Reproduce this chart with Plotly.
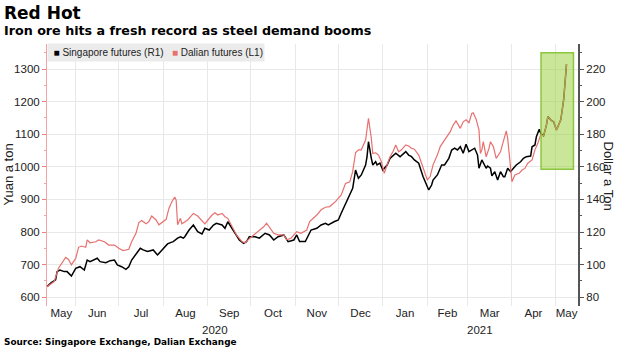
import plotly.graph_objects as go
import pandas as pd

title = "Red Hot"
subtitle = "Iron ore hits a fresh record as steel demand booms"
source = "Source: Singapore Exchange, Dalian Exchange"
left_title = "Yuan a ton"
right_title = "Dollar a Ton"
sgx_name = "Singapore futures (R1)"
dalian_name = "Dalian futures (L1)"

dalian_dates = [
    "2020-05-12", "2020-05-17", "2020-05-20", "2020-05-22", "2020-05-25", "2020-05-27", "2020-05-29",
    "2020-06-01", "2020-06-03", "2020-06-05", "2020-06-08", "2020-06-09", "2020-06-11", "2020-06-15",
    "2020-06-17", "2020-06-21", "2020-06-24", "2020-06-28", "2020-07-01", "2020-07-04", "2020-07-08",
    "2020-07-10", "2020-07-13", "2020-07-15", "2020-07-17", "2020-07-20", "2020-07-22", "2020-07-24",
    "2020-07-27", "2020-07-29", "2020-07-31", "2020-08-03", "2020-08-05", "2020-08-07", "2020-08-09",
    "2020-08-10", "2020-08-11", "2020-08-13", "2020-08-14", "2020-08-18", "2020-08-22", "2020-08-25",
    "2020-08-30", "2020-09-01", "2020-09-04", "2020-09-06", "2020-09-08", "2020-09-11", "2020-09-13",
    "2020-09-15", "2020-09-18", "2020-09-21", "2020-09-25", "2020-09-27", "2020-09-29", "2020-10-03",
    "2020-10-06", "2020-10-10", "2020-10-12", "2020-10-14", "2020-10-17", "2020-10-20", "2020-10-24",
    "2020-10-26", "2020-10-29", "2020-11-02", "2020-11-05", "2020-11-09", "2020-11-11", "2020-11-16",
    "2020-11-19", "2020-11-22", "2020-11-25", "2020-11-29", "2020-12-01", "2020-12-03", "2020-12-06",
    "2020-12-09", "2020-12-11", "2020-12-13", "2020-12-15", "2020-12-17", "2020-12-20", "2020-12-21",
    "2020-12-22", "2020-12-24", "2020-12-25", "2020-12-27", "2020-12-29", "2020-12-31", "2021-01-02",
    "2021-01-04", "2021-01-06", "2021-01-08", "2021-01-10", "2021-01-12", "2021-01-14", "2021-01-17",
    "2021-01-19", "2021-01-21", "2021-01-23", "2021-01-26", "2021-01-28", "2021-01-30", "2021-02-01",
    "2021-02-03", "2021-02-05", "2021-02-08", "2021-02-10", "2021-02-13", "2021-02-17", "2021-02-19",
    "2021-02-21", "2021-02-24", "2021-02-26", "2021-02-28", "2021-03-02", "2021-03-04", "2021-03-05",
    "2021-03-07", "2021-03-09", "2021-03-10", "2021-03-11", "2021-03-12", "2021-03-14", "2021-03-16",
    "2021-03-17", "2021-03-19", "2021-03-21", "2021-03-24", "2021-03-26", "2021-03-28", "2021-03-29",
    "2021-03-31", "2021-04-01", "2021-04-03", "2021-04-06", "2021-04-08", "2021-04-10", "2021-04-12",
    "2021-04-15", "2021-04-17", "2021-04-19", "2021-04-21", "2021-04-23", "2021-04-25", "2021-04-26",
    "2021-04-28", "2021-04-30", "2021-05-02", "2021-05-03", "2021-05-05", "2021-05-07", "2021-05-08",
    "2021-05-09",
]
dalian_yuan = [
    632, 648, 689, 704, 722, 716, 699,
    719, 753, 757, 753, 776, 767, 770,
    776, 770, 760, 760, 750, 743, 747,
    770, 796, 829, 835, 825, 832, 849,
    837, 822, 829, 839, 873, 893, 907,
    898, 822, 842, 825, 837, 857, 849,
    825, 837, 852, 859, 852, 857, 847,
    842, 816, 791, 770, 767, 776, 791,
    801, 816, 827, 814, 796, 791, 791,
    776, 781, 801, 796, 806, 832, 852,
    868, 876, 878, 893, 903, 914, 949,
    954, 985, 1043, 1052, 1052, 1082, 1113,
    1149, 1087, 1041, 1043, 1036, 1016, 980,
    1006, 1031, 1046, 1067, 1046, 1052, 1067,
    1064, 1057, 1054, 1036, 1011, 985, 960,
    970, 1006, 1036, 1062, 1082, 1108, 1128,
    1141, 1118, 1138, 1144, 1135, 1164, 1166,
    1146, 1113, 1041, 1052, 1077, 1031, 1057,
    1077, 1062, 1026, 1046, 1082, 1110, 1087,
    990, 954, 975, 980, 990, 995, 1011,
    1021, 1052, 1072, 1098, 1095, 1128, 1154,
    1144, 1138, 1113, 1123, 1144, 1205, 1266,
    1315,
]

sgx_dates = [
    "2020-05-12", "2020-05-15", "2020-05-18", "2020-05-19", "2020-05-21", "2020-05-24", "2020-05-26",
    "2020-05-29", "2020-06-01", "2020-06-04", "2020-06-07", "2020-06-09", "2020-06-11", "2020-06-14",
    "2020-06-16", "2020-06-18", "2020-06-22", "2020-06-25", "2020-06-28", "2020-06-30", "2020-07-03",
    "2020-07-06", "2020-07-08", "2020-07-10", "2020-07-14", "2020-07-16", "2020-07-18", "2020-07-21",
    "2020-07-23", "2020-07-25", "2020-07-28", "2020-07-30", "2020-08-01", "2020-08-04", "2020-08-06",
    "2020-08-08", "2020-08-11", "2020-08-13", "2020-08-15", "2020-08-16", "2020-08-19", "2020-08-22",
    "2020-08-25", "2020-08-28", "2020-08-30", "2020-09-02", "2020-09-05", "2020-09-07", "2020-09-11",
    "2020-09-13", "2020-09-15", "2020-09-18", "2020-09-20", "2020-09-23", "2020-09-26", "2020-09-28",
    "2020-09-30", "2020-10-04", "2020-10-07", "2020-10-11", "2020-10-14", "2020-10-17", "2020-10-20",
    "2020-10-24", "2020-10-27", "2020-10-31", "2020-11-02", "2020-11-04", "2020-11-08", "2020-11-10",
    "2020-11-12", "2020-11-16", "2020-11-19", "2020-11-22", "2020-11-24", "2020-11-28", "2020-12-01",
    "2020-12-03", "2020-12-06", "2020-12-09", "2020-12-11", "2020-12-13", "2020-12-15", "2020-12-17",
    "2020-12-20", "2020-12-21", "2020-12-22", "2020-12-24", "2020-12-25", "2020-12-27", "2020-12-28",
    "2020-12-30", "2021-01-01", "2021-01-04", "2021-01-06", "2021-01-10", "2021-01-13", "2021-01-17",
    "2021-01-19", "2021-01-21", "2021-01-23", "2021-01-26", "2021-01-28", "2021-01-29", "2021-01-31",
    "2021-02-02", "2021-02-04", "2021-02-05", "2021-02-08", "2021-02-11", "2021-02-13", "2021-02-16",
    "2021-02-18", "2021-02-20", "2021-02-22", "2021-02-24", "2021-02-26", "2021-02-28", "2021-03-02",
    "2021-03-04", "2021-03-06", "2021-03-08", "2021-03-09", "2021-03-11", "2021-03-12", "2021-03-14",
    "2021-03-15", "2021-03-17", "2021-03-18", "2021-03-20", "2021-03-22", "2021-03-24", "2021-03-26",
    "2021-03-27", "2021-03-29", "2021-03-31", "2021-04-02", "2021-04-04", "2021-04-07", "2021-04-09",
    "2021-04-11", "2021-04-14", "2021-04-15", "2021-04-17", "2021-04-18", "2021-04-20", "2021-04-21",
    "2021-04-23", "2021-04-25", "2021-04-26", "2021-04-28", "2021-04-30", "2021-05-02", "2021-05-03",
    "2021-05-05", "2021-05-07", "2021-05-08", "2021-05-09",
]
sgx_usd = [
    86.5, 88.9, 90.6, 95.7, 96.7, 95.7, 95.7,
    93.0, 97.7, 98.7, 96.7, 102.8, 101.8, 102.8,
    103.9, 101.8, 101.2, 102.4, 102.8, 99.8, 98.7,
    97.1, 98.7, 102.8, 107.3, 110.0, 109.0, 108.0,
    108.5, 109.0, 105.9, 108.0, 110.0, 112.7, 113.5,
    114.1, 116.2, 117.1, 116.2, 117.1, 121.2, 124.3,
    120.2, 118.8, 122.3, 121.2, 124.3, 125.3, 124.3,
    122.3, 126.3, 122.3, 119.2, 115.1, 113.1, 114.1,
    117.1, 117.1, 116.2, 119.2, 118.2, 115.1, 117.1,
    118.2, 114.1, 115.1, 118.2, 114.1, 114.1, 118.2,
    121.2, 122.3, 124.3, 125.3, 124.3, 126.3, 127.4,
    131.5, 137.6, 142.7, 146.8, 158.0, 153.0, 155.0,
    161.1, 166.2, 175.4, 165.2, 161.1, 163.1, 161.1,
    162.2, 158.0, 161.1, 165.2, 168.3, 166.2, 169.3,
    167.2, 166.2, 164.2, 162.2, 156.0, 154.0, 149.9,
    145.8, 148.8, 151.9, 155.0, 161.1, 161.1, 165.2,
    170.3, 171.4, 170.3, 172.3, 168.3, 173.8, 169.3,
    170.3, 171.4, 167.2, 159.1, 164.2, 162.2, 159.1,
    160.5, 159.1, 154.4, 157.0, 151.9, 157.0, 153.9,
    153.9, 159.1, 157.0, 159.1, 161.1, 163.1, 165.2,
    166.2, 166.6, 172.3, 173.4, 178.5, 183.0, 180.6,
    179.0, 185.6, 190.8, 188.8, 187.6, 182.6, 184.6,
    188.8, 201.0, 213.2, 223.0,
]

month_labels = ["May", "Jun", "Jul", "Aug", "Sep", "Oct", "Nov", "Dec",
                "Jan", "Feb", "Mar", "Apr", "May"]
year_labels = ["2020", "2021"]

# ---- layout geometry ----
W, H = 620, 348
L, R, T, B = 47, 42, 44, 42
PW, PH = W - L - R, H - T - B

def px(xp):
    return (xp - L) / PW

def py(yp):
    return 1 - (yp - T) / PH

x_start = pd.Timestamp("2020-05-12")
x_end = pd.Timestamp("2021-05-17")
month_starts = list(pd.date_range("2020-06-01", "2021-05-01", freq="MS"))
bounds = [x_start] + month_starts + [x_end]
mids = [a + (b - a) / 2 for a, b in zip(bounds[:-1], bounds[1:])]
y2021 = pd.Timestamp("2021-01-01")
year_mids = [x_start + (y2021 - x_start) / 2, y2021 + (x_end - y2021) / 2]

yuan_range = [573, 1376.7]
usd_range = [(v - 200) / 5 for v in yuan_range]

RED = "#e8706f"
TICKFONT = dict(family="Liberation Sans, Arial, sans-serif", size=11.5, color="#222")

fig = go.Figure()
fig.add_trace(go.Scatter(x=sgx_dates, y=sgx_usd, name=sgx_name, mode="lines",
                         line=dict(color="#000000", width=1.5), yaxis="y",
                         showlegend=False, hoverinfo="skip"))
fig.add_trace(go.Scatter(x=dalian_dates, y=dalian_yuan, name=dalian_name, mode="lines",
                         line=dict(color=RED, width=1.2), yaxis="y2",
                         showlegend=False, hoverinfo="skip"))

fig.update_layout(
    width=W, height=H, autosize=False,
    margin=dict(l=L, r=R, t=T, b=B, pad=0),
    paper_bgcolor="white", plot_bgcolor="white",
    xaxis=dict(
        range=[x_start, x_end], tickmode="array",
        tickvals=[m.strftime("%Y-%m-%d %H:%M") for m in mids], ticktext=month_labels,
        showgrid=False, zeroline=False, showline=False,
        ticks="", ticklabelstandoff=-2,
        tickfont=TICKFONT,
        minor=dict(tickmode="array", tickvals=[m.strftime("%Y-%m-%d") for m in month_starts],
                   showgrid=True, gridcolor="#e8e8e8", gridwidth=1, ticks=""),
    ),
    yaxis=dict(
        side="right", range=usd_range, tickmode="linear", tick0=0, dtick=20,
        showgrid=True, gridcolor="#e8e8e8", zeroline=False,
        showline=True, linecolor="#555", linewidth=2,
        ticks="outside", ticklen=4, tickcolor="#555", tickwidth=1,
        tickfont=TICKFONT,
        minor=dict(dtick=10, ticks="outside", ticklen=2, tickcolor="#555"),
    ),
    yaxis2=dict(
        side="left", overlaying="y", range=yuan_range, tickmode="linear", tick0=0, dtick=100,
        showgrid=False, zeroline=False,
        showline=True, linecolor="#f3a3a3", linewidth=1,
        ticks="outside", ticklen=4, tickcolor="#f08080", tickwidth=1,
        tickfont=TICKFONT,
        minor=dict(dtick=50, ticks="outside", ticklen=2, tickcolor="#f3a3a3"),
    ),
    shapes=[dict(type="rect", xref="x", yref="y", layer="above",
                 x0="2021-04-21 06:00", x1="2021-05-13 20:00", y0=158.5, y1=230,
                 fillcolor="rgba(150,205,50,0.5)", line=dict(color="#8cc63f", width=1.5))],
)

ann = []
ann.append(dict(text=f"<b>{title}</b>", x=px(2), y=py(13), xref="paper", yref="paper",
                xanchor="left", yanchor="middle", showarrow=False,
                font=dict(family="DejaVu Sans", size=17, color="#000")))
ann.append(dict(text=f"<b>{subtitle}</b>", x=px(2), y=py(30.5), xref="paper", yref="paper",
                xanchor="left", yanchor="middle", showarrow=False,
                font=dict(family="DejaVu Sans", size=12.7, color="#000")))
ann.append(dict(text=f"<b>{source}</b>", x=px(2), y=py(342), xref="paper", yref="paper",
                xanchor="left", yanchor="middle", showarrow=False,
                font=dict(family="DejaVu Sans", size=8.9, color="#000")))
legend_text = (f"&nbsp;&nbsp;<span style='color:#000'>■</span>&nbsp;{sgx_name}&nbsp;&nbsp;&nbsp;"
               f"<span style='color:{RED}'>■</span>&nbsp;{dalian_name}")
ann.append(dict(text=legend_text, x=px(47), y=py(43), xref="paper", yref="paper",
                xanchor="left", yanchor="top", showarrow=False, align="left",
                width=216, height=17, borderpad=0, bgcolor="#ebebeb",
                font=dict(family="Liberation Sans, Arial, sans-serif", size=10, color="#222")))
ann.append(dict(text=left_title, x=px(7.5), y=py(175), xref="paper", yref="paper",
                xanchor="center", yanchor="middle", textangle=-90, showarrow=False,
                font=dict(family="Liberation Sans, Arial, sans-serif", size=13, color="#222")))
ann.append(dict(text=right_title, x=px(608), y=py(175.5), xref="paper", yref="paper",
                xanchor="center", yanchor="middle", textangle=90, showarrow=False,
                font=dict(family="Liberation Sans, Arial, sans-serif", size=13, color="#222")))
for lab, xm in zip(year_labels, year_mids):
    ann.append(dict(text=lab, x=xm.strftime("%Y-%m-%d %H:%M"), y=py(330), xref="x", yref="paper",
                    xanchor="center", yanchor="middle", showarrow=False, font=TICKFONT))
fig.update_layout(annotations=ann)

fig.write_html("out.html")
